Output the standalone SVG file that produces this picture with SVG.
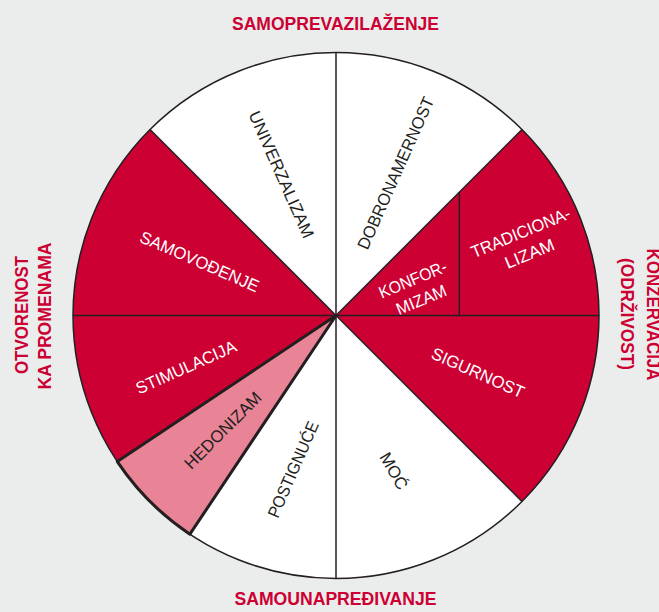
<svg xmlns="http://www.w3.org/2000/svg" width="659" height="612" viewBox="0 0 659 612">
  <style>
    .bg { fill: #ebedec; }
    .red { fill: #cc0033; }
    .white { fill: #ffffff; }
    .pink { fill: #e98496; }
    .div { stroke: #231f20; stroke-width: 1.5; fill: none; stroke-linecap: butt; }
    .thick { stroke: #231f20; stroke-width: 3; fill: none; stroke-linejoin: round; }
    .lbl { font-family: "Liberation Sans", Arial, sans-serif; font-size: 17px; text-anchor: middle; }
    .dk { fill: #231f20; }
    .lt { fill: #ffffff; }
    .ttl { font-family: "Liberation Sans", Arial, sans-serif; font-size: 18px; font-weight: bold; fill: #cc0033; text-anchor: middle; }
  </style>

  <rect class="bg" x="0" y="0" width="659" height="612"/>

  <!-- value sectors: centre (336,315.5), radius 263 -->
  <g id="univerzalizam">
    <path class="white" d="M336,315.5 L150.03,129.53 A263,263 0 0 1 336,52.5 Z"/>
    <g transform="translate(281.5 174.5) rotate(66)">
      <text class="lbl dk" x="0" y="6" textLength="137" lengthAdjust="spacingAndGlyphs">UNIVERZALIZAM</text>
    </g>
  </g>

  <g id="dobronamernost">
    <path class="white" d="M336,315.5 L336,52.5 A263,263 0 0 1 521.97,129.53 Z"/>
    <g transform="translate(395.5 173) rotate(-66)">
      <text class="lbl dk" x="0" y="6" textLength="165" lengthAdjust="spacingAndGlyphs">DOBRONAMERNOST</text>
    </g>
  </g>

  <g id="tradicionalizam">
    <path class="red" d="M459.3,192.2 L521.97,129.53 A263,263 0 0 1 599,315.5 L459.3,315.5 Z"/>
    <g transform="translate(525 243) rotate(-22.5)">
      <text class="lbl lt" x="0" y="-5.5" textLength="106" lengthAdjust="spacingAndGlyphs">TRADICIONA-</text>
      <text class="lbl lt" x="0" y="17.5" textLength="52" lengthAdjust="spacingAndGlyphs">LIZAM</text>
    </g>
  </g>

  <g id="konformizam">
    <path class="red" d="M336,315.5 L459.3,192.2 L459.3,315.5 Z"/>
    <g transform="translate(417 289.5) rotate(-22.5)">
      <text class="lbl lt" x="0" y="-5" textLength="72" lengthAdjust="spacingAndGlyphs">KONFOR-</text>
      <text class="lbl lt" x="0" y="17" textLength="53" lengthAdjust="spacingAndGlyphs">MIZAM</text>
    </g>
  </g>

  <g id="sigurnost">
    <path class="red" d="M336,315.5 L599,315.5 A263,263 0 0 1 521.97,501.47 Z"/>
    <g transform="translate(478 372.7) rotate(24)">
      <text class="lbl lt" x="0" y="6" textLength="100" lengthAdjust="spacingAndGlyphs">SIGURNOST</text>
    </g>
  </g>

  <g id="moc">
    <path class="white" d="M336,315.5 L521.97,501.47 A263,263 0 0 1 336,578.5 Z"/>
    <g transform="translate(394 471) rotate(60)">
      <text class="lbl dk" x="0" y="6">MOĆ</text>
    </g>
  </g>

  <g id="postignuce">
    <path class="white" d="M336,315.5 L336,578.5 A263,263 0 0 1 189.89,534.18 Z"/>
    <g transform="translate(293 469.3) rotate(-66.5)">
      <text class="lbl dk" x="0" y="6" textLength="103" lengthAdjust="spacingAndGlyphs">POSTIGNUĆE</text>
    </g>
  </g>

  <g id="hedonizam">
    <path class="pink" d="M336,315.5 L189.89,534.18 A263,263 0 0 1 117.32,461.61 Z"/>
    <g transform="translate(222.8 430.3) rotate(-45)">
      <text class="lbl dk" x="0" y="6" textLength="101" lengthAdjust="spacingAndGlyphs">HEDONIZAM</text>
    </g>
  </g>

  <g id="stimulacija">
    <path class="red" d="M336,315.5 L117.32,461.61 A263,263 0 0 1 73,315.5 Z"/>
    <g transform="translate(186 367) rotate(-24)">
      <text class="lbl lt" x="0" y="6" textLength="108" lengthAdjust="spacingAndGlyphs">STIMULACIJA</text>
    </g>
  </g>

  <g id="samovodjenje">
    <path class="red" d="M336,315.5 L73,315.5 A263,263 0 0 1 150.03,129.53 Z"/>
    <g transform="translate(199.6 261.4) rotate(23.5)">
      <text class="lbl lt" x="0" y="6" textLength="128" lengthAdjust="spacingAndGlyphs">SAMOVOĐENJE</text>
    </g>
  </g>

  <!-- sector borders -->
  <g id="connectors">
    <line class="div" x1="336" y1="315.5" x2="336" y2="52.5"/>
    <line class="div" x1="336" y1="315.5" x2="521.97" y2="129.53"/>
    <line class="div" x1="336" y1="315.5" x2="599" y2="315.5"/>
    <line class="div" x1="336" y1="315.5" x2="521.97" y2="501.47"/>
    <line class="div" x1="336" y1="315.5" x2="336" y2="578.5"/>
    <line class="div" x1="336" y1="315.5" x2="73" y2="315.5"/>
    <line class="div" x1="336" y1="315.5" x2="150.03" y2="129.53"/>
    <line class="div" x1="459.3" y1="192.2" x2="459.3" y2="315.5"/>
    <circle class="div" cx="336" cy="315.5" r="263"/>
    <path class="thick" d="M336,315.5 L189.89,534.18 A263,263 0 0 1 117.32,461.61 Z"/>
  </g>

  <!-- higher-order dimensions -->
  <g id="dimensions">
    <text class="ttl" x="335.5" y="30" textLength="207" lengthAdjust="spacingAndGlyphs">SAMOPREVAZILAŽENJE</text>
    <text class="ttl" x="335.5" y="605" textLength="202" lengthAdjust="spacingAndGlyphs">SAMOUNAPREĐIVANJE</text>
    <text class="ttl" x="27.5" y="315" transform="rotate(-90 27.5 315)" textLength="118" lengthAdjust="spacingAndGlyphs">OTVORENOST</text>
    <text class="ttl" x="51" y="316" transform="rotate(-90 51 316)" textLength="147" lengthAdjust="spacingAndGlyphs">KA PROMENAMA</text>
    <text class="ttl" x="646.5" y="314.5" transform="rotate(90 646.5 314.5)" textLength="132" lengthAdjust="spacingAndGlyphs">KONZERVACIJA</text>
    <text class="ttl" x="621" y="314" transform="rotate(90 621 314)" textLength="112" lengthAdjust="spacingAndGlyphs">(ODRŽIVOST)</text>
  </g>
</svg>
